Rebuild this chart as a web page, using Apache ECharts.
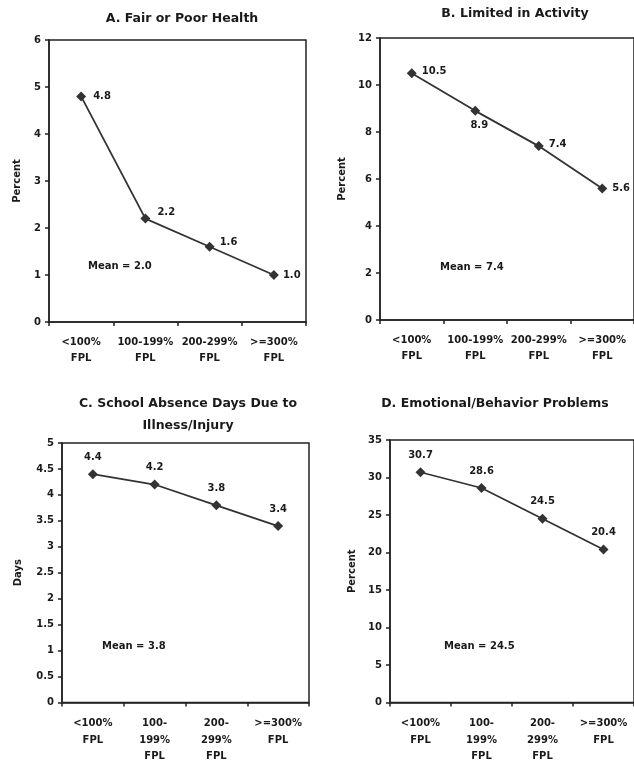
<!DOCTYPE html>
<html>
<head>
<meta charset="utf-8">
<script src="https://cdn.jsdelivr.net/npm/echarts@6/dist/echarts.min.js"></script>
<style>
html,body{margin:0;padding:0;background:#fff;}
#chart{width:634px;height:765px;}
</style>
</head>
<body>
<div id="chart"></div>
<script>
// ---- data ----
const catsAB = ['<100%\nFPL', '100-199%\nFPL', '200-299%\nFPL', '>=300%\nFPL'];
const catsCD = ['<100%\nFPL', '100-\n199%\nFPL', '200-\n299%\nFPL', '>=300%\nFPL'];
const titles = ['A. Fair or Poor Health', 'B. Limited in Activity',
  'C. School Absence Days Due to\nIllness/Injury', 'D. Emotional/Behavior Problems'];
const yNames = ['Percent', 'Percent', 'Days', 'Percent'];
const valuesA = [4.8, 2.2, 1.6, 1.0];
const valuesB = [10.5, 8.9, 7.4, 5.6];
const valuesC = [4.4, 4.2, 3.8, 3.4];
const valuesD = [30.7, 28.6, 24.5, 20.4];
const means = ['2.0', '7.4', '3.8', '24.5'];
const yMax = [6, 12, 5, 35];
const yStep = [1, 2, 0.5, 5];

// ---- layout / style ----
const FONT = 'DejaVu Sans';
const INK = '#1a1a1a';
const grids = [
  {left: 49, top: 40, width: 257, height: 282},
  {left: 380, top: 38, width: 264, height: 282},
  {left: 62, top: 443, width: 247, height: 260},
  {left: 390, top: 440, width: 253, height: 263}
];
const titlePos = [
  {x: 177, y: 3}, {x: 510, y: -2}, {x: 183, y: 388}, {x: 490, y: 388}
];
const xLabelMargin = [12, 12, 13, 13];
const nameGaps = [27, 33, 39, 33];
const meanPos = [[88, 267], [440, 268], [102, 647], [444, 647]];
// label placement per point: [position, dx, dy]
const labelCfg = [
  [['right', 2, 0], ['right', 2, -6], ['right', 0, -4], ['right', -1, 0]],
  [['right', 0, -2], ['bottom', 4, 0], ['right', 0, -2], ['right', 0, 0]],
  [['top', 0, -2], ['top', 0, -2], ['top', 0, -2], ['top', 0, -2]],
  [['top', 0, -2], ['top', 0, -2], ['top', 0, -2], ['top', 0, -2]]
];
const allValues = [valuesA, valuesB, valuesC, valuesD];

const chart = echarts.init(document.getElementById('chart'), null, {renderer: 'canvas'});

const option = {
  backgroundColor: '#fff',
  animation: false,
  title: titles.map((t, i) => ({
    text: t, left: titlePos[i].x, top: titlePos[i].y, textAlign: 'center',
    textStyle: {fontFamily: FONT, fontWeight: 'bold', fontSize: 12.5, color: INK, lineHeight: 22}
  })),
  grid: grids.map(g => Object.assign({show: true, borderColor: '#222', borderWidth: 1.5, backgroundColor: 'transparent'}, g)),
  xAxis: [0, 1, 2, 3].map(i => ({
    type: 'category', gridIndex: i, data: i < 2 ? catsAB : catsCD, boundaryGap: true,
    axisLine: {lineStyle: {color: '#222', width: 1.5}},
    axisTick: {show: true, length: 4, inside: false, lineStyle: {color: '#222', width: 1.5}},
    axisLabel: {fontFamily: FONT, fontWeight: 'bold', fontSize: 10, color: INK, margin: xLabelMargin[i], lineHeight: 16.5, interval: 0},
    splitLine: {show: false}
  })),
  yAxis: [0, 1, 2, 3].map(i => ({
    type: 'value', gridIndex: i, min: 0, max: yMax[i], interval: yStep[i],
    name: yNames[i], nameLocation: 'middle', nameGap: nameGaps[i],
    nameTextStyle: {fontFamily: FONT, fontWeight: 'bold', fontSize: 10, color: INK},
    axisLine: {show: true, lineStyle: {color: '#222', width: 1.5}},
    axisTick: {show: true, length: 4, lineStyle: {color: '#222', width: 1.5}},
    axisLabel: {fontFamily: FONT, fontWeight: 'bold', fontSize: 10, color: INK, margin: 8},
    splitLine: {show: false}
  })),
  series: allValues.map((vals, i) => ({
    type: 'line', xAxisIndex: i, yAxisIndex: i,
    symbol: 'diamond', symbolSize: 10,
    lineStyle: {color: '#333', width: 1.8},
    itemStyle: {color: '#333'},
    label: {show: true, fontFamily: FONT, fontWeight: 'bold', fontSize: 10, color: INK},
    data: vals.map((v, j) => ({
      value: v,
      label: {position: labelCfg[i][j][0], offset: [labelCfg[i][j][1], labelCfg[i][j][2]],
        formatter: v.toFixed(1)}
    }))
  })),
  graphic: means.map((m, i) => ({
    type: 'text', left: meanPos[i][0], top: meanPos[i][1] - 6,
    style: {text: 'Mean = ' + m, font: 'bold 10px "DejaVu Sans"', fill: INK}
  }))
};
chart.setOption(option);
</script>
</body>
</html>
